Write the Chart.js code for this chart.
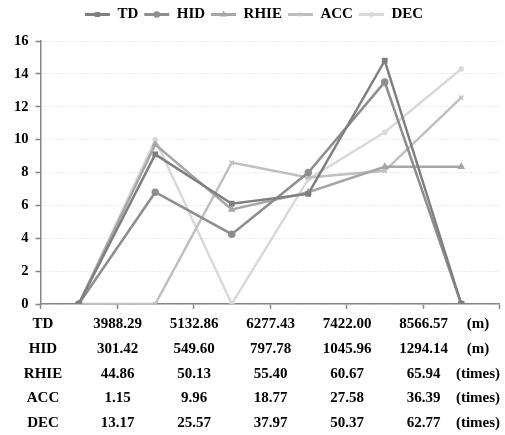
<!DOCTYPE html>
<html>
<head>
<meta charset="utf-8">
<script src="https://cdn.jsdelivr.net/npm/chart.js@4.4.1/dist/chart.umd.min.js"></script>
<style>
  html, body { margin: 0; padding: 0; background: #fff; }
  #wrap { position: relative; width: 505px; height: 435px; overflow: hidden; }
  #wrap canvas { position: absolute; left: 0; top: 0; }
  .cell {
    position: absolute;
    transform: translate(-50%, -50%);
    font: bold 15px 'Liberation Serif', 'Times New Roman', serif;
    color: #000;
    white-space: nowrap;
  }
</style>
</head>
<body>
<div id="wrap">
  <canvas id="chart" width="505" height="435"></canvas>
  <div id="table"></div>
</div>
<script>
// chart data
const categories = ['1', '2', '3', '4', '5', '6'];
const tdValues   = [0, 9.1, 6.1, 6.7, 14.8, 0];
const hidValues  = [0, 6.8, 4.25, 8.0, 13.5, 0];
const rhieValues = [0, 9.7, 5.75, 6.8, 8.35, 8.35];
const accValues  = [0, 0, 8.6, 7.7, 8.1, 12.55];
const decValues  = [0, 10.0, 0, 7.6, 10.45, 14.3];

// table under the axis
const rowLabels = ['TD', 'HID', 'RHIE', 'ACC', 'DEC'];
const tdTicks   = ['3988.29', '5132.86', '6277.43', '7422.00', '8566.57'];
const hidTicks  = ['301.42', '549.60', '797.78', '1045.96', '1294.14'];
const rhieTicks = ['44.86', '50.13', '55.40', '60.67', '65.94'];
const accTicks  = ['1.15', '9.96', '18.77', '27.58', '36.39'];
const decTicks  = ['13.17', '25.57', '37.97', '50.37', '62.77'];
const units     = ['(m)', '(m)', '(times)', '(times)', '(times)'];

const FONT = "'Liberation Serif', 'Times New Roman', serif";
const AXIS = '#868686';

function makeSet(label, data, color, style) {
    return {
        label: label,
        data: data,
        borderColor: color,
        backgroundColor: color,
        pointBackgroundColor: color,
        pointBorderColor: color,
        pointStyle: style,
        pointRadius: 3,
        pointBorderWidth: 1.5,
        borderWidth: 2.5,
        tension: 0
    };
}

// draws the series marker in the middle of each legend line,
// and leaves a bit more room under the legend
const legendMarkers = {
    id: 'legendMarkers',
    beforeInit(chart) {
        const legend = chart.legend;
        if (!legend) return;
        const fit = legend.fit;
        legend.fit = function () {
            fit.call(this);
            this.height += 9;
        };
    },
    afterDraw(chart) {
        const legend = chart.legend;
        if (!legend || !legend.legendHitBoxes || !Chart.helpers) return;
        const ctx = chart.ctx;
        const boxWidth = legend.options.labels.boxWidth;
        legend.legendHitBoxes.forEach((box, i) => {
            const ds = chart.data.datasets[i];
            ctx.save();
            ctx.fillStyle = ds.borderColor;
            ctx.strokeStyle = ds.borderColor;
            ctx.lineWidth = 1.5;
            Chart.helpers.drawPoint(ctx, {
                pointStyle: ds.pointStyle, radius: 2.5, rotation: 0, borderWidth: 1.5
            }, box.left + boxWidth / 2, box.top + box.height / 2);
            ctx.restore();
        });
    }
};

const chart = new Chart(document.getElementById('chart'), {
    type: 'line',
    data: {
        labels: categories,
        datasets: [
            makeSet('TD', tdValues, '#7f7f7f', 'rect'),
            makeSet('HID', hidValues, '#8e8e8e', 'circle'),
            makeSet('RHIE', rhieValues, '#a6a6a6', 'triangle'),
            makeSet('ACC', accValues, '#bfbfbf', 'crossRot'),
            makeSet('DEC', decValues, '#d9d9d9', 'star')
        ]
    },
    options: {
        responsive: false,
        animation: false,
        layout: { padding: { left: 7, right: 4, top: 1, bottom: 126 } },
        plugins: {
            legend: {
                position: 'top',
                labels: {
                    boxWidth: 25,
                    boxHeight: 3,
                    padding: 6,
                    color: '#000',
                    font: { size: 15, weight: 'bold', family: FONT },
                    generateLabels(chart) {
                        const items = Chart.defaults.plugins.legend.labels.generateLabels(chart);
                        items.forEach(it => { it.lineWidth = 0; });
                        return items;
                    }
                }
            },
            tooltip: { enabled: false }
        },
        scales: {
            x: {
                type: 'category',
                offset: true,
                grid: {
                    offset: true,
                    drawOnChartArea: false,
                    drawTicks: true,
                    tickLength: 5,
                    tickColor: AXIS,
                    tickWidth: 1.5
                },
                border: { color: AXIS, width: 1.5 },
                ticks: { display: false }
            },
            y: {
                min: 0,
                max: 16,
                ticks: {
                    stepSize: 2,
                    color: '#000',
                    padding: 7,
                    font: { size: 14.5, weight: 'bold', family: FONT }
                },
                grid: {
                    color: '#d9d9d9',
                    lineWidth: 1,
                    tickColor: AXIS,
                    tickLength: 5,
                    tickWidth: 1.5,
                    tickBorderDash: []
                },
                border: { color: AXIS, width: 1.5, dash: [1, 2] }
            }
        }
    },
    plugins: [legendMarkers]
});

// table rows, columns placed on the category boundaries of the x scale
const tableRows = [tdTicks, hidTicks, rhieTicks, accTicks, decTicks];
const xs = chart.scales.x;
const colX = [];
for (let i = 0; i < 5; i++) {
    colX.push((xs.getPixelForValue(i) + xs.getPixelForValue(i + 1)) / 2 + 0.5);
}
const table = document.getElementById('table');
function addCell(text, x, y) {
    const d = document.createElement('div');
    d.className = 'cell';
    d.textContent = text;
    d.style.left = x + 'px';
    d.style.top = y + 'px';
    table.appendChild(d);
}
tableRows.forEach((row, r) => {
    const y = 323 + r * 24.8;
    addCell(rowLabels[r], 43, y);
    row.forEach((v, c) => addCell(v, colX[c], y));
    addCell(units[r], 478, y);
});
</script>
</body>
</html>
